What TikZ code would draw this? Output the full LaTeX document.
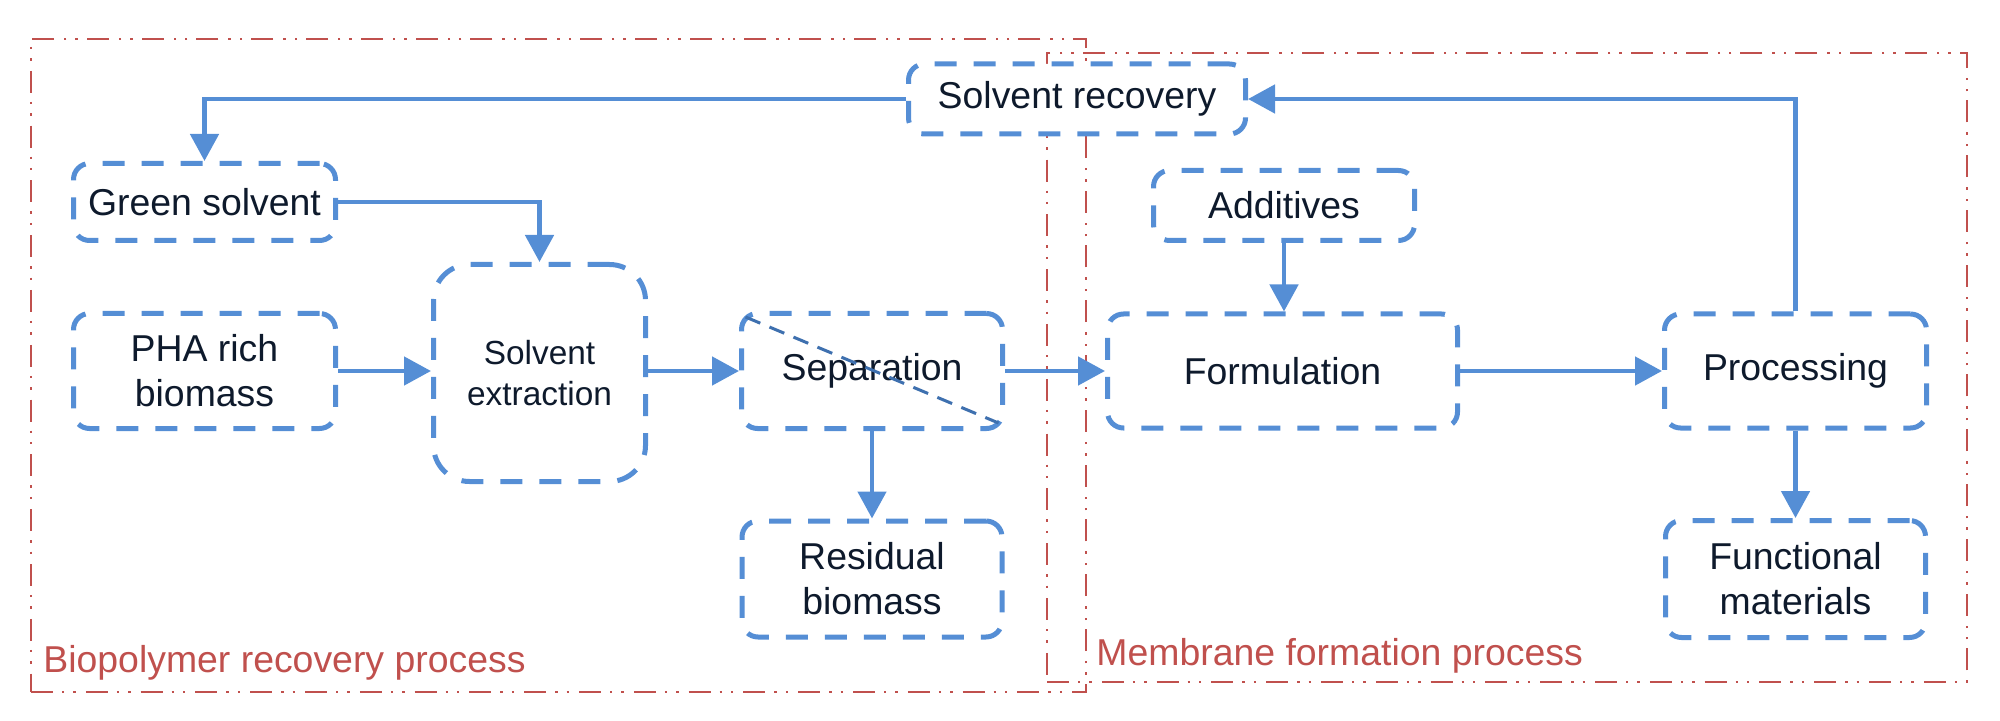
\documentclass[tikz,border=0pt]{standalone}
\usepackage{fontspec}
\setmainfont{Liberation Sans}
\usetikzlibrary{arrows.meta,backgrounds}
\definecolor{boxblue}{RGB}{85,142,213}
\definecolor{diagblue}{RGB}{62,112,175}
\definecolor{redline}{RGB}{192,80,77}
\definecolor{txt}{RGB}{14,26,44}
\begin{document}
\begin{tikzpicture}[x=0.5pt,y=-0.5pt,
  pbox/.style={draw=boxblue,line width=2.5pt,dash pattern=on 11pt off 8.5pt,rounded corners=8pt,fill=white,text=txt,font=\fontsize{18.7}{22.5}\selectfont,align=center,inner sep=0pt},
  conn/.style={draw=boxblue,line width=2.4pt,-{Triangle[length=13.5pt,width=14pt]}},
  grp/.style={draw=redline,line width=1.3pt,dash pattern=on 11pt off 4.5pt on 1.2pt off 4.5pt on 1.2pt off 5pt,inner sep=0pt,outer sep=0pt},
  grplabel/.style={text=redline,font=\fontsize{18.7}{21.5}\selectfont,anchor=west,inner sep=0pt},
  diag/.style={draw=diagblue,line width=1.5pt,dash pattern=on 8pt off 5pt}]
\useasboundingbox (0,0) rectangle (2000,721);
% process nodes
\node[pbox,minimum width=168.5pt,minimum height=35pt] (rec) at (1077,99) {Solvent recovery};
\node[pbox,minimum width=131pt,minimum height=38.5pt] (green) at (204.5,202) {Green solvent};
\node[pbox,minimum width=131pt,minimum height=57.5pt] (pha) at (204.5,371) {PHA rich\\biomass};
\node[pbox,minimum width=106pt,minimum height=108.5pt,rounded corners=18pt,font=\fontsize{16.7}{20.5}\selectfont] (se) at (539.5,373) {Solvent\\extraction};
\node[pbox,minimum width=130.5pt,minimum height=57.5pt] (sep) at (872,371) {Separation};
\node[pbox,minimum width=130pt,minimum height=58pt] (res) at (872,579) {Residual\\biomass};
\node[pbox,minimum width=130.5pt,minimum height=35pt] (add) at (1284,205.5) {Additives};
\node[pbox,minimum width=175pt,minimum height=57pt] (form) at (1282.5,371) {Formulation};
\node[pbox,minimum width=131pt,minimum height=57pt] (proc) at (1795.5,371) {Processing};
\node[pbox,minimum width=130pt,minimum height=58.5pt] (func) at (1795.5,579) {Functional\\materials};
% diagonal in separation box
\draw[diag] ([xshift=3.25pt,yshift=-3pt]sep.north west) -- ([xshift=-3.25pt,yshift=4pt]sep.south east);
% connectors
\draw[conn] (pha.east) -- (pha.east -| se.west);
\draw[conn] (sep.west -| se.east) -- (sep.west);
\draw[conn] (sep.east) -- (form.west);
\draw[conn] (form.east) -- (proc.west);
\draw[conn] (sep.south) -- (res.north);
\draw[conn] (proc.south) -- (func.north);
\draw[conn] (add.south) -- (add.south |- form.north);
\draw[conn] (green.east) -| (se.north);
\draw[conn] (rec.west) -| (green.north);
\draw[conn] (proc.north) |- (rec.east);
% group frames
\begin{scope}[on background layer]
\node[grp,minimum width=527.5pt,minimum height=326.5pt] (g1) at (558.5,365.5) {};
\node[grp,minimum width=460pt,minimum height=314.5pt] (g2) at (1507,367.5) {};
\end{scope}
\node[grplabel] (l1) at (43,663) {Biopolymer recovery process};
\node[grplabel] (l2) at (1096,656) {Membrane formation process};
\end{tikzpicture}
\end{document}
